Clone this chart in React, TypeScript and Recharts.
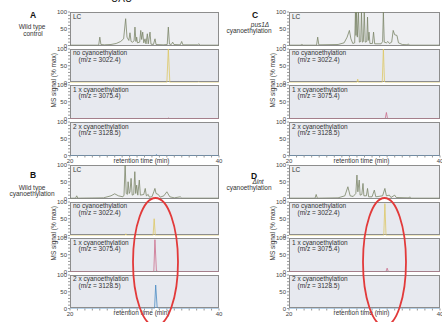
import React from 'react';
import { LineChart, Line, XAxis, YAxis } from 'recharts';

type Pt = [number, number];

// retention time (min), signal (% max)
const lcA: Pt[] = [[20, 1], [23.85, 1], [24.0, 25], [24.15, 3], [24.6, 2], [25.5, 3], [26.2, 6], [26.8, 12], [27.2, 20], [27.47, 80], [27.65, 25], [27.9, 15], [28.05, 38], [28.2, 12], [28.4, 10], [28.6, 14], [28.72, 55], [28.85, 12], [28.95, 25], [29.05, 8], [29.35, 10], [29.5, 45], [29.62, 18], [29.76, 40], [29.9, 8], [30.07, 20], [30.2, 5], [30.38, 35], [30.5, 5], [30.74, 40], [30.87, 4], [31.2, 3], [31.41, 20], [31.55, 3], [32.5, 2], [33.05, 3], [33.2, 55], [33.35, 4], [33.6, 3], [33.78, 10], [33.95, 3], [34.8, 2], [34.99, 12], [35.15, 2], [37.1, 2], [37.3, 5], [37.5, 1], [40, 1]];
const noA: Pt[] = [[20, 0], [33.0, 0], [33.2, 100], [33.4, 0], [37.2, 0], [37.3, 2], [37.4, 0], [40, 0]];
const oneA: Pt[] = [[20, 0], [33.1, 0], [33.2, 1.5], [33.3, 0], [40, 0]];
const twoA: Pt[] = [[20, 0], [31.5, 0], [31.6, 3], [31.7, 0], [40, 0]];

const lcB: Pt[] = [[20, 1], [20.75, 1], [20.9, 8], [21.05, 1], [24.5, 2], [25.5, 8], [26.0, 14], [26.5, 8], [27.1, 5], [27.25, 10], [27.4, 100], [27.55, 15], [27.7, 12], [27.8, 50], [27.95, 15], [28.05, 20], [28.2, 60], [28.35, 10], [28.55, 12], [28.7, 80], [28.82, 15], [28.95, 40], [29.1, 10], [29.3, 55], [29.45, 10], [29.9, 12], [30.1, 30], [30.25, 8], [30.5, 12], [30.65, 4], [31.0, 5], [31.25, 20], [31.4, 30], [31.55, 15], [31.85, 12], [32.1, 4], [32.6, 8], [33.0, 20], [33.4, 5], [34.0, 2], [34.8, 5], [35.0, 1], [40, 1]];
const noB: Pt[] = [[20, 0], [27.4, 0], [27.5, 5], [27.6, 0], [31.15, 0], [31.3, 50], [31.45, 0], [40, 0]];
const oneB: Pt[] = [[20, 0], [31.25, 0], [31.4, 95], [31.6, 2], [31.8, 0], [40, 0]];
const twoB: Pt[] = [[20, 0], [31.35, 0], [31.5, 70], [31.7, 3], [31.9, 0], [40, 0]];

const lcC: Pt[] = [[20, 1], [21.5, 1], [21.7, 3], [21.9, 1], [23.65, 1], [23.8, 25], [23.95, 2], [26.5, 3], [27.3, 8], [27.7, 25], [28.0, 45], [28.2, 20], [28.45, 6], [28.7, 8], [28.8, 100], [28.87, 30], [28.95, 100], [29.05, 25], [29.2, 100], [29.32, 10], [29.5, 12], [29.6, 100], [29.72, 10], [29.85, 12], [29.97, 100], [30.1, 10], [30.3, 12], [30.4, 85], [30.5, 15], [30.6, 40], [30.72, 6], [31.05, 6], [31.2, 40], [31.35, 5], [32.2, 5], [32.4, 12], [32.5, 100], [32.62, 10], [32.9, 8], [33.1, 12], [33.3, 6], [33.6, 10], [33.8, 45], [34.0, 32], [34.3, 30], [34.5, 8], [35.0, 3], [35.7, 2], [35.8, 5], [35.95, 1], [40, 1]];
const noC: Pt[] = [[20, 0], [29.0, 0], [29.1, 10], [29.2, 0], [32.35, 0], [32.5, 100], [32.65, 2], [32.8, 0], [40, 0]];
const oneC: Pt[] = [[20, 0], [32.75, 0], [32.9, 18], [33.05, 0], [40, 0]];
const twoC: Pt[] = [[20, 0], [40, 0]];

const lcD: Pt[] = [[20, 1], [23.45, 1], [23.6, 12], [23.75, 1], [26.5, 2], [27.4, 8], [27.8, 35], [28.1, 8], [28.5, 6], [28.85, 15], [29.0, 70], [29.12, 20], [29.3, 55], [29.42, 10], [29.65, 12], [29.8, 45], [29.92, 8], [30.25, 8], [30.4, 30], [30.55, 5], [31.0, 5], [31.3, 25], [31.5, 5], [32.4, 8], [32.7, 30], [32.9, 8], [33.3, 10], [33.5, 3], [34.0, 10], [34.2, 3], [35.9, 2], [36.0, 5], [36.1, 1], [40, 1]];
const noD: Pt[] = [[20, 0], [32.55, 0], [32.7, 95], [32.85, 0], [40, 0]];
const oneD: Pt[] = [[20, 0], [32.85, 0], [33.0, 10], [33.15, 0], [40, 0]];
const twoD: Pt[] = [[20, 0], [40, 0]];

const traceNames = ['LC', 'no cyanoethylation', '1 x cyanoethylation', '2 x cyanoethylation'];
const mzLabels = ['', '(m/z = 3022.4)', '(m/z = 3075.4)', '(m/z = 3128.5)'];
const traceColors = ['#7b8568', '#ddc866', '#cc6d8c', '#4a8cc4'];
const xTicks = [20, 21, 22, 23, 24, 25, 26, 27, 28, 29, 30, 31, 32, 33, 34, 35, 36, 37, 38, 39, 40];
const yTicks = [0, 10, 20, 30, 40, 50, 60, 70, 80, 90, 100];

const FONT = "'Liberation Sans', Arial, Helvetica, sans-serif";
const TXT = '#333';

const toRows = (pts: Pt[]) => pts.map(([t, v]) => ({ t, v }));

interface TraceProps {
  pts: Pt[];
  idx: number;
  x: number;
  y: number;
  w: number;
  h: number;
  bottom: boolean;
}

const Trace: React.FC<TraceProps> = ({ pts, idx, x, y, w, h, bottom }) => {
  const yw = 18;
  const mt = 5;
  const xh = bottom ? 14 : 0;
  const mb = bottom ? 0 : 5;
  return (
    <>
      <div style={{ position: 'absolute', left: x, top: y, width: w, height: h, background: idx === 0 ? '#eeeff2' : '#e7e9ef', border: '1px solid #8d8d8d', boxSizing: 'border-box' }} />
      <div style={{ position: 'absolute', left: x - yw, top: y - mt }}>
        <LineChart width={yw + w + 4} height={mt + h + xh + mb} data={toRows(pts)} margin={{ top: mt, right: 4, bottom: mb, left: 0 }}>
          <XAxis
            type="number"
            dataKey="t"
            domain={[20, 40]}
            ticks={xTicks}
            interval={0}
            hide={!bottom}
            height={xh}
            tickSize={2}
            tickMargin={1}
            axisLine={false}
            tickLine={{ stroke: '#999' }}
            tick={{ fontSize: 6, fill: '#444', fontFamily: FONT }}
            tickFormatter={(v: number) => (v === 20 || v === 40 ? String(v) : '')}
          />
          <YAxis
            type="number"
            domain={[0, 100]}
            ticks={yTicks}
            interval={0}
            width={yw}
            tickSize={2}
            tickMargin={1}
            axisLine={false}
            allowDataOverflow
            tickLine={{ stroke: '#999' }}
            tick={{ fontSize: 6, fill: '#444', fontFamily: FONT }}
            tickFormatter={(v: number) => (v % 50 === 0 ? String(v) : '')}
          />
          <Line type="linear" dataKey="v" stroke={traceColors[idx]} strokeWidth={0.8} dot={false} isAnimationActive={false} />
        </LineChart>
      </div>
      <div style={{ position: 'absolute', left: x + 3, top: y + 0.5, fontSize: 6.5, lineHeight: '7px', color: TXT, fontFamily: FONT, whiteSpace: 'nowrap' }}>
        {traceNames[idx]}
      </div>
      {mzLabels[idx] && (
        <div style={{ position: 'absolute', left: x + 8.5, top: y + 7, fontSize: 6.5, lineHeight: '7px', color: TXT, fontFamily: FONT, whiteSpace: 'nowrap' }}>
          {mzLabels[idx]}
        </div>
      )}
    </>
  );
};

interface PanelProps {
  traces: Pt[][];
  bx: number;
  bw: number;
  by: number;
  pitch: number;
  letter: string;
  letterPos: [number, number];
  line1: string;
  line1Pos: [number, number];
  line1Italic: boolean;
  line2: string;
  line2Pos: [number, number];
}

const centered = (cx: number, cy: number, size: number): React.CSSProperties => ({
  position: 'absolute',
  left: cx - 50,
  width: 100,
  top: cy - size / 2,
  lineHeight: `${size}px`,
  fontSize: size,
  textAlign: 'center',
  color: TXT,
  fontFamily: FONT,
  whiteSpace: 'nowrap',
});

const Panel: React.FC<PanelProps> = (p) => {
  const h = 33.5;
  const bottomEdge = p.by + 3 * p.pitch + h;
  return (
    <>
      <div style={{ ...centered(p.letterPos[0], p.letterPos[1], 8.5), fontWeight: 'bold', color: '#111' }}>{p.letter}</div>
      <div style={{ ...centered(p.line1Pos[0], p.line1Pos[1], 6.5), fontStyle: p.line1Italic ? 'italic' : 'normal' }}>{p.line1}</div>
      <div style={centered(p.line2Pos[0], p.line2Pos[1], 6.5)}>{p.line2}</div>
      <div style={{ ...centered(p.bx - 16, p.by + 68, 6.5), transform: 'rotate(-90deg)' }}>MS signal (% max)</div>
      {p.traces.map((pts, i) => (
        <Trace key={i} pts={pts} idx={i} x={p.bx} y={p.by + i * p.pitch} w={p.bw} h={h} bottom={i === 3} />
      ))}
      <div style={centered(p.bx + p.bw / 2 - 3, bottomEdge + 5.5, 6.5)}>retention time (min)</div>
    </>
  );
};

export default function App() {
  return (
    <div style={{ position: 'absolute', left: 0, top: 0, width: 442, height: 322, overflow: 'hidden', background: '#fff' }}>
      <div style={{ position: 'absolute', left: 111, top: -6.5, fontSize: 10, lineHeight: '10px', color: '#222', fontFamily: FONT }}>UAU</div>
      <Panel traces={[lcA, noA, oneA, twoA]} bx={70} bw={149} by={12} pitch={36.7}
        letter="A" letterPos={[33, 15]} line1="Wild type" line1Pos={[32, 27]} line1Italic={false} line2="control" line2Pos={[33, 34]} />
      <Panel traces={[lcB, noB, oneB, twoB]} bx={70} bw={149} by={165} pitch={36.5}
        letter="B" letterPos={[33, 175]} line1="Wild type" line1Pos={[32, 188]} line1Italic={false} line2="cyanoethylation" line2Pos={[32, 194]} />
      <Panel traces={[lcC, noC, oneC, twoC]} bx={289} bw={151} by={12} pitch={36.7}
        letter="C" letterPos={[255, 15]} line1="pus1Δ" line1Pos={[260, 25]} line1Italic={true} line2="cyanoethylation" line2Pos={[249, 31]} />
      <Panel traces={[lcD, noD, oneD, twoD]} bx={289} bw={151} by={165} pitch={36.5}
        letter="D" letterPos={[254, 176]} line1="Δint" line1Pos={[258, 182]} line1Italic={true} line2="cyanoethylation" line2Pos={[249, 188]} />
      <svg width={442} height={322} style={{ position: 'absolute', left: 0, top: 0, pointerEvents: 'none' }}>
        <ellipse cx={155.5} cy={262} rx={22.5} ry={64} fill="none" stroke="#e23a3a" strokeWidth={1.8} />
        <ellipse cx={384.5} cy={262} rx={21.5} ry={64} fill="none" stroke="#e23a3a" strokeWidth={1.8} />
      </svg>
    </div>
  );
}
